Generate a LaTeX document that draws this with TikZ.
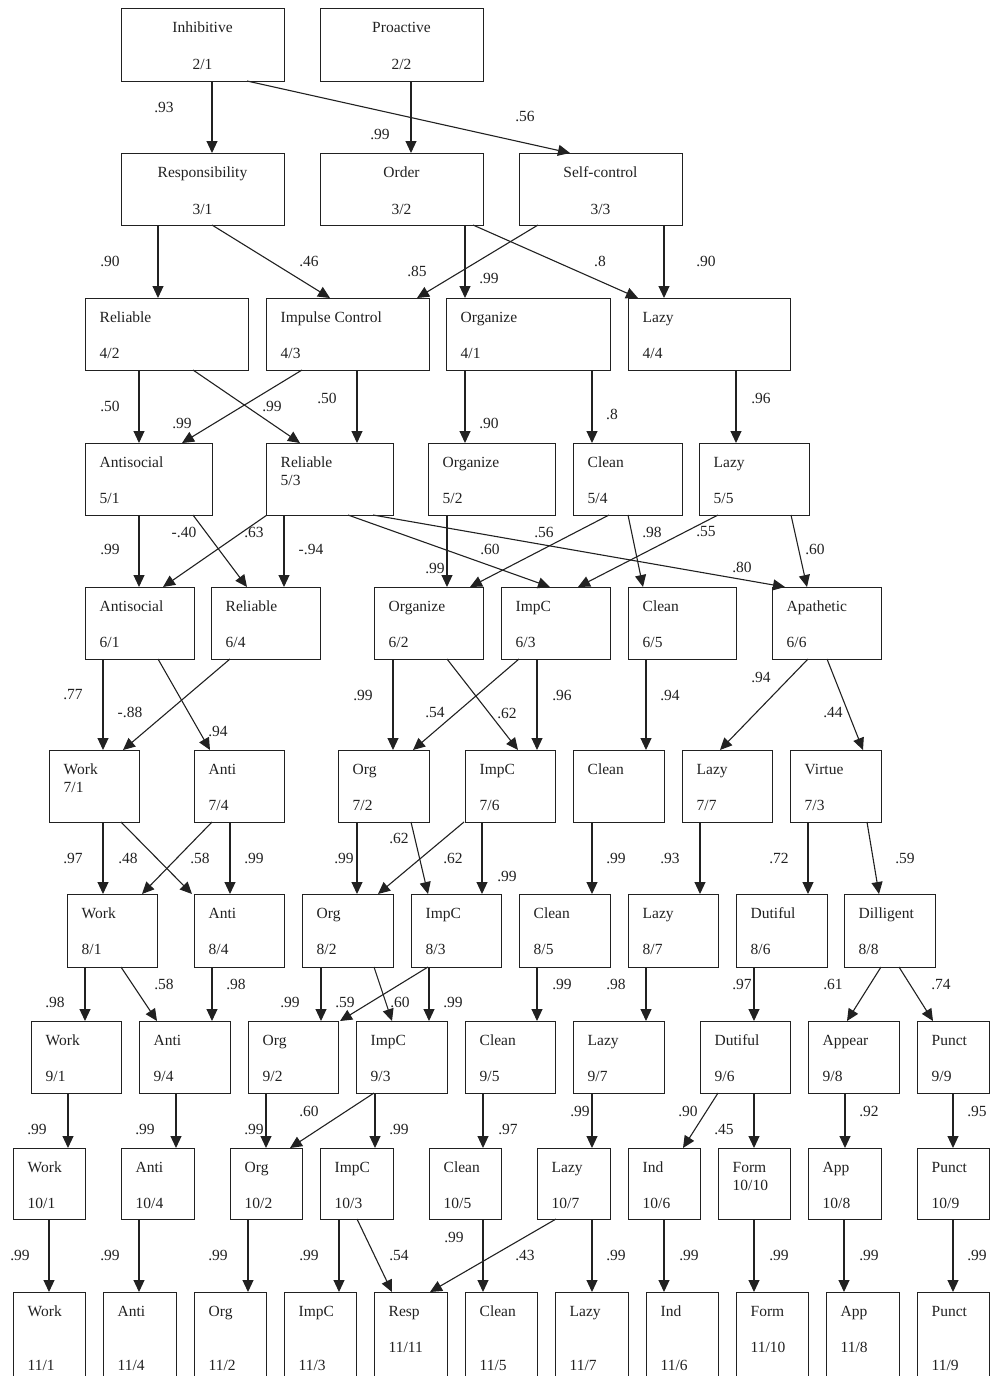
\documentclass[tikz,border=0pt]{standalone}
\usepackage{fontspec}
\setmainfont{Liberation Serif}
\usetikzlibrary{arrows.meta}
\definecolor{ink}{gray}{0.13}
\tikzset{
  box/.style={draw=ink, line width=0.9pt, inner sep=0pt, outer sep=0pt, rectangle},
  txt/.style={anchor=base west, inner sep=0pt, text=ink, font=\fontsize{15.5}{18}\selectfont},
  ctxt/.style={anchor=base, inner sep=0pt, text=ink, font=\fontsize{15.5}{18}\selectfont},
  lbl/.style={inner sep=0pt, text=ink, font=\fontsize{15.5}{18}\selectfont},
  arr/.style={draw=ink, line width=1.1pt, -{Triangle[length=12pt,width=11pt]}}
}
\newcounter{labc}
% name, x1, y1, x2, y2, line1, line2, baseline offset of line2
\newcommand\bx[8]{%
  \node[box, minimum width={(#4-#2)*1pt}, minimum height={(#5-#3)*1pt}] (#1) at ({(#2+#4)/2},{(#3+#5)/2}) {};
  \node[txt] (#1t) at ([xshift=14.5pt,yshift=-24pt]#1.north west) {#6};
  \node[txt] (#1n) at ([xshift=14.5pt,yshift=-#8pt]#1.north west) {#7};
}
\newcommand\cbx[7]{%
  \node[box, minimum width={(#4-#2)*1pt}, minimum height={(#5-#3)*1pt}] (#1) at ({(#2+#4)/2},{(#3+#5)/2}) {};
  \node[ctxt] (#1t) at ([yshift=-24pt]#1.north) {#6};
  \node[ctxt] (#1n) at ([yshift=-61pt]#1.north) {#7};
}
% source, x at source, target, x at target
\newcommand\ed[4]{%
  \path (#2,0) coordinate (ea) (#4,0) coordinate (eb);
  \draw[arr] (#1.south -| ea) -- (#3.north -| eb);
}
\newcommand\lab[3]{\stepcounter{labc}\node[lbl] (lab\thelabc) at (#1,#2) {#3};}

\begin{document}
\begin{tikzpicture}[x=1pt,y=-1pt]
\useasboundingbox (0,0) rectangle (995,1376);
\clip (0,0) rectangle (995,1376);
% Row 2
\cbx{inh}{121}{8}{284}{81}{Inhibitive}{2/1}
\cbx{pro}{320}{8}{483}{81}{Proactive}{2/2}
% Row 3
\cbx{resp}{121}{153}{284}{225}{Responsibility}{3/1}
\cbx{ord}{320}{153}{483}{225}{Order}{3/2}
\cbx{self}{519}{153}{682}{225}{Self-control}{3/3}
% Row 4
\bx{rel4}{85}{298}{248}{370}{Reliable}{4/2}{60}
\bx{imp4}{266}{298}{429}{370}{Impulse Control}{4/3}{60}
\bx{org4}{446}{298}{610}{370}{Organize}{4/1}{60}
\bx{lazy4}{628}{298}{790}{370}{Lazy}{4/4}{60}
% Row 5
\bx{anti5}{85}{443}{212}{515}{Antisocial}{5/1}{60}
\bx{rel5}{266}{443}{393}{515}{Reliable}{5/3}{42}
\bx{org5}{428}{443}{555}{515}{Organize}{5/2}{60}
\bx{clean5}{573}{443}{682}{515}{Clean}{5/4}{60}
\bx{lazy5}{699}{443}{809}{515}{Lazy}{5/5}{60}
% Row 6
\bx{anti6}{85}{587}{194}{659}{Antisocial}{6/1}{60}
\bx{rel6}{211}{587}{320}{659}{Reliable}{6/4}{60}
\bx{org6}{374}{587}{483}{659}{Organize}{6/2}{60}
\bx{imp6}{501}{587}{610}{659}{ImpC}{6/3}{60}
\bx{clean6}{628}{587}{736}{659}{Clean}{6/5}{60}
\bx{apa6}{772}{587}{881}{659}{Apathetic}{6/6}{60}
% Row 7
\bx{work7}{49}{750}{139}{822}{Work}{7/1}{42}
\bx{anti7}{194}{750}{284}{822}{Anti}{7/4}{60}
\bx{org7}{338}{750}{429}{822}{Org}{7/2}{60}
\bx{imp7}{465}{750}{555}{822}{ImpC}{7/6}{60}
\bx{clean7}{573}{750}{664}{822}{Clean}{}{60}
\bx{lazy7}{682}{750}{772}{822}{Lazy}{7/7}{60}
\bx{vir7}{790}{750}{881}{822}{Virtue}{7/3}{60}
% Row 8
\bx{work8}{67}{894}{157}{967}{Work}{8/1}{60}
\bx{anti8}{194}{894}{284}{967}{Anti}{8/4}{60}
\bx{org8}{302}{894}{393}{967}{Org}{8/2}{60}
\bx{imp8}{411}{894}{501}{967}{ImpC}{8/3}{60}
\bx{clean8}{519}{894}{610}{967}{Clean}{8/5}{60}
\bx{lazy8}{628}{894}{718}{967}{Lazy}{8/7}{60}
\bx{dut8}{736}{894}{827}{967}{Dutiful}{8/6}{60}
\bx{dil8}{844}{894}{935}{967}{Dilligent}{8/8}{60}
% Row 9
\bx{work9}{31}{1021}{121}{1093}{Work}{9/1}{60}
\bx{anti9}{139}{1021}{230}{1093}{Anti}{9/4}{60}
\bx{org9}{248}{1021}{338}{1093}{Org}{9/2}{60}
\bx{imp9}{356}{1021}{447}{1093}{ImpC}{9/3}{60}
\bx{clean9}{465}{1021}{555}{1093}{Clean}{9/5}{60}
\bx{lazy9}{573}{1021}{664}{1093}{Lazy}{9/7}{60}
\bx{dut9}{700}{1021}{790}{1093}{Dutiful}{9/6}{60}
\bx{app9}{808}{1021}{899}{1093}{Appear}{9/8}{60}
\bx{pun9}{917}{1021}{989}{1093}{Punct}{9/9}{60}
% Row 10
\bx{work10}{13}{1148}{85}{1219}{Work}{10/1}{60}
\bx{anti10}{121}{1148}{194}{1219}{Anti}{10/4}{60}
\bx{org10}{230}{1148}{302}{1219}{Org}{10/2}{60}
\bx{imp10}{320}{1148}{393}{1219}{ImpC}{10/3}{60}
\bx{clean10}{429}{1148}{501}{1219}{Clean}{10/5}{60}
\bx{lazy10}{537}{1148}{610}{1219}{Lazy}{10/7}{60}
\bx{ind10}{628}{1148}{700}{1219}{Ind}{10/6}{60}
\bx{form10}{718}{1148}{790}{1219}{Form}{10/10}{42}
\bx{app10}{808}{1148}{881}{1219}{App}{10/8}{60}
\bx{pun10}{917}{1148}{989}{1219}{Punct}{10/9}{60}
% Row 11
\bx{work11}{13}{1292}{85}{1400}{Work}{11/1}{78}
\bx{anti11}{103}{1292}{176}{1400}{Anti}{11/4}{78}
\bx{org11}{194}{1292}{266}{1400}{Org}{11/2}{78}
\bx{imp11}{284}{1292}{356}{1400}{ImpC}{11/3}{78}
\bx{resp11}{374}{1292}{447}{1400}{Resp}{11/11}{60}
\bx{clean11}{465}{1292}{537}{1400}{Clean}{11/5}{78}
\bx{lazy11}{555}{1292}{628}{1400}{Lazy}{11/7}{78}
\bx{ind11}{646}{1292}{718}{1400}{Ind}{11/6}{78}
\bx{form11}{736}{1292}{808}{1400}{Form}{11/10}{60}
\bx{app11}{826}{1292}{899}{1400}{App}{11/8}{60}
\bx{pun11}{917}{1292}{989}{1400}{Punct}{11/9}{78}

% Edges row 2 -> 3
\ed{inh}{212}{resp}{212}
\ed{pro}{411}{ord}{411}
\ed{inh}{247}{self}{570}
% row 3 -> 4
\ed{resp}{158}{rel4}{158}
\ed{resp}{212}{imp4}{330}
\ed{self}{538}{imp4}{417}
\ed{ord}{465}{org4}{465}
\ed{ord}{473}{lazy4}{638}
\ed{self}{664}{lazy4}{664}
% row 4 -> 5
\ed{rel4}{139}{anti5}{139}
\ed{rel4}{193}{rel5}{300}
\ed{imp4}{302}{anti5}{182}
\ed{imp4}{357}{rel5}{357}
\ed{org4}{465}{org5}{465}
\ed{org4}{592}{clean5}{592}
\ed{lazy4}{736}{lazy5}{736}
% row 5 -> 6
\ed{anti5}{139}{anti6}{139}
\ed{anti5}{193}{rel6}{247}
\ed{rel5}{267}{anti6}{163}
\ed{rel5}{284}{rel6}{284}
\ed{rel5}{348}{imp6}{550}
\ed{rel5}{373}{apa6}{785}
\ed{org5}{447}{org6}{447}
\ed{clean5}{609}{org6}{470}
\ed{clean5}{628}{clean6}{643}
\ed{lazy5}{718}{imp6}{578}
\ed{lazy5}{791}{apa6}{807}
% row 6 -> 7
\ed{anti6}{103}{work7}{103}
\ed{anti6}{158}{anti7}{210}
\ed{rel6}{230}{work7}{123}
\ed{org6}{393}{org7}{393}
\ed{imp6}{519}{org7}{413}
\ed{org6}{447}{imp7}{518}
\ed{imp6}{537}{imp7}{537}
\ed{clean6}{646}{clean7}{646}
\ed{apa6}{808}{lazy7}{720}
\ed{apa6}{827}{vir7}{863}
% row 7 -> 8
\ed{work7}{103}{work8}{103}
\ed{work7}{121}{anti8}{192}
\ed{anti7}{212}{work8}{142}
\ed{anti7}{230}{anti8}{230}
\ed{org7}{357}{org8}{357}
\ed{org7}{411}{imp8}{428}
\ed{imp7}{464}{org8}{378}
\ed{imp7}{482}{imp8}{482}
\ed{clean7}{592}{clean8}{592}
\ed{lazy7}{700}{lazy8}{700}
\ed{vir7}{808}{dut8}{808}
\ed{vir7}{867}{dil8}{879}
% row 8 -> 9
\ed{work8}{85}{work9}{85}
\ed{work8}{121}{anti9}{157}
\ed{anti8}{212}{anti9}{212}
\ed{org8}{321}{org9}{321}
\ed{org8}{374}{imp9}{392}
\ed{imp8}{428}{org9}{340}
\ed{imp8}{429}{imp9}{429}
\ed{clean8}{537}{clean9}{537}
\ed{lazy8}{646}{lazy9}{646}
\ed{dut8}{754}{dut9}{754}
\ed{dil8}{881}{app9}{847}
\ed{dil8}{899}{pun9}{933}
% row 9 -> 10
\ed{work9}{68}{work10}{68}
\ed{anti9}{176}{anti10}{176}
\ed{org9}{266}{org10}{266}
\ed{imp9}{374}{org10}{290}
\ed{imp9}{375}{imp10}{375}
\ed{clean9}{483}{clean10}{483}
\ed{lazy9}{592}{lazy10}{592}
\ed{dut9}{718}{ind10}{683}
\ed{dut9}{754}{form10}{754}
\ed{app9}{845}{app10}{845}
\ed{pun9}{953}{pun10}{953}
% row 10 -> 11
\ed{work10}{49}{work11}{49}
\ed{anti10}{139}{anti11}{139}
\ed{org10}{248}{org11}{248}
\ed{imp10}{339}{imp11}{339}
\ed{imp10}{357}{resp11}{392}
\ed{lazy10}{556}{resp11}{430}
\ed{clean10}{483}{clean11}{483}
\ed{lazy10}{592}{lazy11}{592}
\ed{ind10}{664}{ind11}{664}
\ed{form10}{754}{form11}{754}
\ed{app10}{844}{app11}{844}
\ed{pun10}{953}{pun11}{953}

% Labels
\lab{164}{107}{.93}
\lab{380}{134}{.99}
\lab{525}{116}{.56}
\lab{110}{261}{.90}
\lab{309}{261}{.46}
\lab{417}{271}{.85}
\lab{489}{278}{.99}
\lab{600}{261}{.8}
\lab{706}{261}{.90}
\lab{110}{406}{.50}
\lab{272}{406}{.99}
\lab{182}{423}{.99}
\lab{327}{398}{.50}
\lab{489}{423}{.90}
\lab{612}{414}{.8}
\lab{761}{398}{.96}
\lab{184}{532}{-.40}
\lab{254}{532}{.63}
\lab{110}{549}{.99}
\lab{311}{549}{-.94}
\lab{490}{549}{.60}
\lab{435}{568}{.99}
\lab{544}{532}{.56}
\lab{652}{532}{.98}
\lab{706}{532}{.55}
\lab{815}{549}{.60}
\lab{742}{567}{.80}
\lab{73}{695}{.77}
\lab{130}{712}{-.88}
\lab{218}{731}{.94}
\lab{363}{695}{.99}
\lab{435}{712}{.54}
\lab{507}{713}{.62}
\lab{562}{695}{.96}
\lab{670}{695}{.94}
\lab{761}{677}{.94}
\lab{833}{712}{.44}
\lab{399}{838}{.62}
\lab{73}{858}{.97}
\lab{128}{858}{.48}
\lab{200}{858}{.58}
\lab{254}{858}{.99}
\lab{344}{858}{.99}
\lab{453}{858}{.62}
\lab{507}{876}{.99}
\lab{616}{858}{.99}
\lab{670}{858}{.93}
\lab{779}{858}{.72}
\lab{905}{858}{.59}
\lab{55}{1002}{.98}
\lab{164}{984}{.58}
\lab{236}{984}{.98}
\lab{290}{1002}{.99}
\lab{345}{1002}{.59}
\lab{400}{1002}{.60}
\lab{453}{1002}{.99}
\lab{562}{984}{.99}
\lab{616}{984}{.98}
\lab{742}{984}{.97}
\lab{833}{984}{.61}
\lab{941}{984}{.74}
\lab{37}{1129}{.99}
\lab{145}{1129}{.99}
\lab{254}{1129}{.99}
\lab{309}{1111}{.60}
\lab{399}{1129}{.99}
\lab{508}{1129}{.97}
\lab{580}{1111}{.99}
\lab{688}{1111}{.90}
\lab{724}{1129}{.45}
\lab{869}{1111}{.92}
\lab{977}{1111}{.95}
\lab{20}{1255}{.99}
\lab{110}{1255}{.99}
\lab{218}{1255}{.99}
\lab{309}{1255}{.99}
\lab{399}{1255}{.54}
\lab{454}{1237}{.99}
\lab{525}{1255}{.43}
\lab{616}{1255}{.99}
\lab{689}{1255}{.99}
\lab{779}{1255}{.99}
\lab{869}{1255}{.99}
\lab{977}{1255}{.99}
\end{tikzpicture}
\end{document}
